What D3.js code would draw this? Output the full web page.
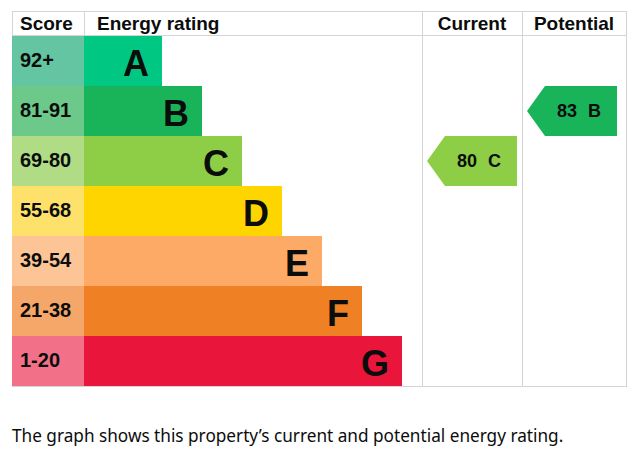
<!DOCTYPE html>
<html>
<head>
<meta charset="utf-8">
<script src="https://cdn.jsdelivr.net/npm/d3@7"></script>
<style>
  body { margin: 0; background: #fff; }
  svg { display: block; }
</style>
</head>
<body>
<div id="chart"></div>
<script>
// data
const bands = ["A", "B", "C", "D", "E", "F", "G"];
const scoreRanges = ["92+", "81-91", "69-80", "55-68", "39-54", "21-38", "1-20"];
const bandThresholds = [21, 39, 55, 69, 81, 92];   // lower bound of F..A
const columns = ["Current", "Potential"];
const ratings = [80, 83];                          // current, potential
const caption = "The graph shows this property\u2019s current and potential energy rating.";

const bandColor = d3.scaleOrdinal()
    .domain(bands)
    .range(["#00c781", "#19b459", "#8dce46", "#ffd500", "#fcaa65", "#ef8023", "#e9153b"]);
const scoreColor = d3.scaleOrdinal()
    .domain(bands)
    .range(["#63c5a1", "#6dc98a", "#b0dc86", "#fde16a", "#fdc596", "#f5a76a", "#f27189"]);

const bandOf = d3.scaleThreshold()
    .domain(bandThresholds)
    .range(bands.slice().reverse());

const W = 638, H = 452;
const tLeft = 12, scoreW = 72, tTop = 11, headH = 24, tBottom = 386;
const tRight = 626;
const gridColor = "#d4d4d4";
const font = "'Liberation Sans', Arial, sans-serif";

const svg = d3.select("#chart").append("svg")
    .attr("width", W)
    .attr("height", H);

// rows
const y = d3.scaleBand()
    .domain(bands)
    .range([tTop + headH + 1, tBottom]);

const barStart = tLeft + scoreW;
const barEnd = d3.scaleLinear()
    .domain([0, bands.length - 1])
    .range([162, 402]);

// columns for current / potential
const colX = d3.scaleOrdinal()
    .domain(columns)
    .range([422, 522]);
const colEnd = d3.scaleOrdinal()
    .domain(columns)
    .range([522, tRight]);

// grid lines
const grid = svg.append("g")
    .attr("stroke", gridColor)
    .attr("stroke-width", 1)
    .attr("shape-rendering", "crispEdges");

[tTop, tTop + headH, tBottom].forEach(function(yy) {
    grid.append("line")
        .attr("x1", tLeft).attr("x2", tRight + 1)
        .attr("y1", yy + 0.5).attr("y2", yy + 0.5);
});
[tLeft, barStart].forEach(function(xx) {
    grid.append("line")
        .attr("x1", xx + 0.5).attr("x2", xx + 0.5)
        .attr("y1", tTop).attr("y2", tTop + headH);
});
[422, 522, tRight].forEach(function(xx) {
    grid.append("line")
        .attr("x1", xx + 0.5).attr("x2", xx + 0.5)
        .attr("y1", tTop).attr("y2", tBottom + 1);
});

// header
const head = svg.append("g")
    .style("font-family", font)
    .style("font-weight", "bold")
    .style("font-size", "19px")
    .attr("fill", "#0b0c0c");

head.append("text").attr("x", tLeft + 8).attr("y", tTop + 19).text("Score");
head.append("text").attr("x", barStart + 13).attr("y", tTop + 19).text("Energy rating");
columns.forEach(function(c) {
    head.append("text")
        .attr("x", (colX(c) + colEnd(c)) / 2)
        .attr("y", tTop + 19)
        .attr("text-anchor", "middle")
        .text(c);
});

// score cells and bars
const rows = svg.append("g").selectAll("g")
    .data(bands)
    .enter()
    .append("g");

rows.append("rect")
    .attr("x", tLeft)
    .attr("y", d => y(d))
    .attr("width", scoreW)
    .attr("height", y.bandwidth())
    .attr("fill", d => scoreColor(d));

rows.append("rect")
    .attr("x", barStart)
    .attr("y", d => y(d))
    .attr("width", (d, i) => barEnd(i) - barStart)
    .attr("height", y.bandwidth())
    .attr("fill", d => bandColor(d));

rows.append("text")
    .attr("x", tLeft + 8)
    .attr("y", d => y(d) + 31)
    .style("font-family", font)
    .style("font-weight", "bold")
    .style("font-size", "20px")
    .attr("fill", "#0b0c0c")
    .text((d, i) => scoreRanges[i]);

rows.append("text")
    .attr("x", (d, i) => barEnd(i) - 13)
    .attr("y", d => y(d) + 40)
    .attr("text-anchor", "end")
    .style("font-family", font)
    .style("font-weight", "bold")
    .style("font-size", "36px")
    .attr("fill", "#0b0c0c")
    .text(d => d);

// rating arrows
const arrowW = 90, notch = 18;
const arrows = svg.append("g").selectAll("g")
    .data(columns.map((c, i) => ({col: c, score: ratings[i], band: bandOf(ratings[i])})))
    .enter()
    .append("g");

arrows.append("polygon")
    .attr("points", function(d) {
        const x0 = colX(d.col) + 5, x1 = x0 + arrowW;
        const y0 = y(d.band), y1 = y0 + y.bandwidth();
        return [[x0, (y0 + y1) / 2], [x0 + notch, y0], [x1, y0], [x1, y1], [x0 + notch, y1]]
            .map(p => p.join(",")).join(" ");
    })
    .attr("fill", d => bandColor(d.band));

arrows.append("text")
    .attr("x", d => colX(d.col) + 5 + notch + (arrowW - notch) / 2 - 2)
    .attr("y", d => y(d.band) + y.bandwidth() / 2 + 6)
    .attr("text-anchor", "middle")
    .style("font-family", font)
    .style("font-weight", "bold")
    .style("font-size", "18px")
    .style("word-spacing", "6px")
    .attr("fill", "#0b0c0c")
    .text(d => d.score + " " + d.band);

// caption
svg.append("text")
    .attr("x", tLeft)
    .attr("y", 442)
    .style("font-family", "'Noto Sans', sans-serif")
    .style("font-size", "17.2px")
    .attr("fill", "#0b0c0c")
    .text(caption);
</script>
</body>
</html>
